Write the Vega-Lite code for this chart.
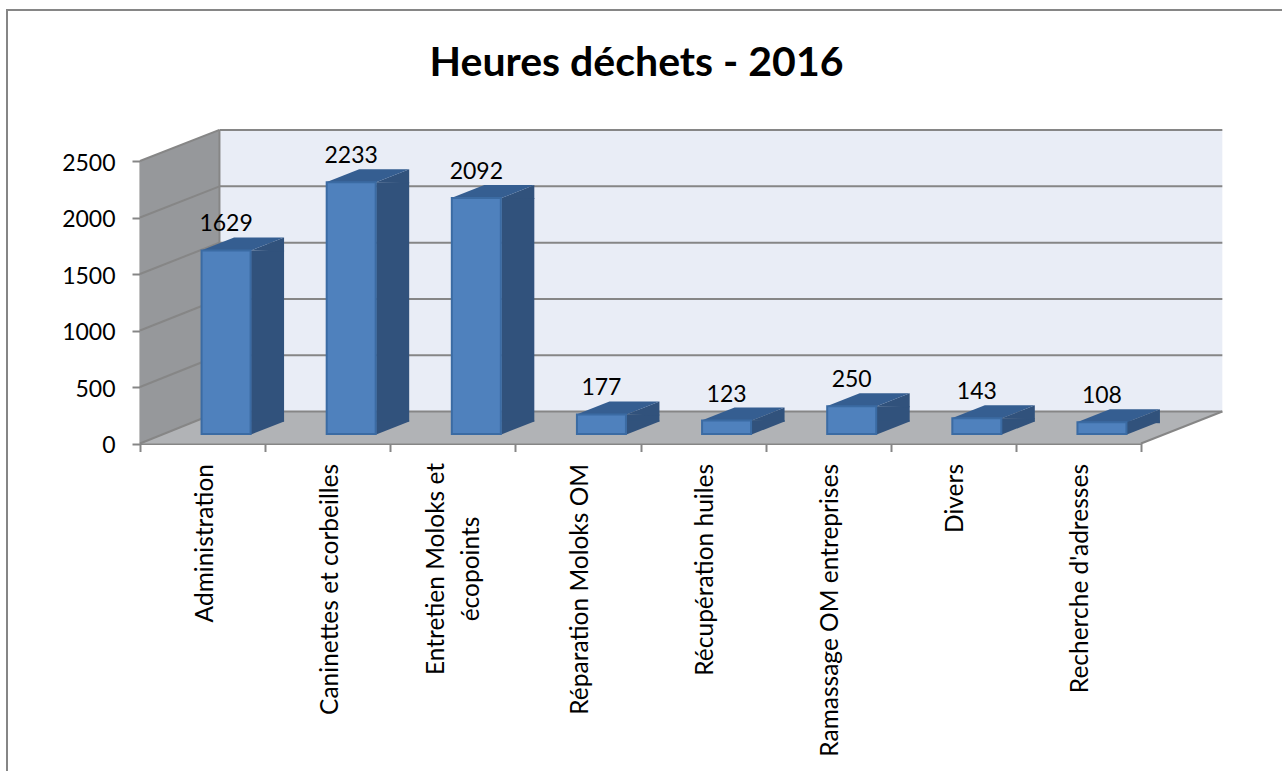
{"$schema":"https://vega.github.io/schema/vega-lite/v6.json","width":1285,"height":765,"autosize":{"type":"none"},"padding":{"left":7,"top":10,"right":0,"bottom":0},"background":"white","view":{"stroke":"#868686","strokeWidth":2,"fill":"white"},"title":{"text":"Heures déchets - 2016","font":"Lato","fontSize":41,"fontWeight":"bold","color":"#000000","anchor":"middle","offset":-75,"dx":-13},"datasets":{"bars":[{"cat":"Administration","hours":1629},{"cat":"Caninettes et corbeilles","hours":2233},{"cat":"Entretien Moloks et écopoints","hours":2092},{"cat":"Réparation Moloks OM","hours":177},{"cat":"Récupération huiles","hours":123},{"cat":"Ramassage OM entreprises","hours":250},{"cat":"Divers","hours":143},{"cat":"Recherche d'adresses","hours":108}],"wall":[{"u":0,"lo":0,"hi":2500},{"u":0.635,"lo":283,"hi":2775}],"floor":[{"u":0,"lo":0,"hi":0},{"u":0.635,"lo":0,"hi":283},{"u":8,"lo":0,"hi":283},{"u":8.65,"lo":283,"hi":283}],"back":[{"u":0.635,"lo":283,"hi":2775},{"u":8.65,"lo":283,"hi":2775}],"grid":[{"a":0,"b":0.635,"c":0,"d":283},{"a":0,"b":0.635,"c":500,"d":781},{"a":0,"b":0.635,"c":1000,"d":1279},{"a":0,"b":0.635,"c":1500,"d":1777},{"a":0,"b":0.635,"c":2000,"d":2276},{"a":0,"b":0.635,"c":2500,"d":2775},{"a":0.635,"b":8.65,"c":283,"d":283},{"a":0.635,"b":8.65,"c":781,"d":781},{"a":0.635,"b":8.65,"c":1279,"d":1279},{"a":0.635,"b":8.65,"c":1777,"d":1777},{"a":0.635,"b":8.65,"c":2276,"d":2276},{"a":0.635,"b":8.65,"c":2775,"d":2775},{"a":8,"b":8.65,"c":0,"d":283},{"a":0.635,"b":0.635,"c":283,"d":2775}]},"resolve":{"scale":{"x":"independent"},"axis":{"x":"independent"}},"layer":[{"data":{"name":"back"},"mark":{"type":"area","color":"#e9edf6","clip":false},"encoding":{"x":{"field":"u","type":"quantitative","axis":null,"scale":{"domain":[0,8],"range":[133,1134],"nice":false,"zero":false}},"y":{"field":"lo","type":"quantitative","stack":null,"scale":{"domain":[0,2500],"range":[433.5,151],"nice":false,"zero":false},"axis":{"values":[0,500,1000,1500,2000,2500],"format":"d","title":null,"grid":false,"offset":-133,"tickSize":8,"tickColor":"#868686","domainColor":"#868686","domainWidth":2,"tickWidth":2,"labelFont":"Lato","labelFontSize":23,"labelColor":"#000000","labelPadding":17,"labelOffset":2}},"y2":{"field":"hi"}}},{"data":{"name":"wall"},"mark":{"type":"area","color":"#96989b"},"encoding":{"x":{"field":"u","type":"quantitative","axis":null,"scale":{"domain":[0,8],"range":[133,1134],"nice":false,"zero":false}},"y":{"field":"lo","type":"quantitative","stack":null},"y2":{"field":"hi"}}},{"data":{"name":"floor"},"mark":{"type":"area","color":"#b1b3b6"},"encoding":{"x":{"field":"u","type":"quantitative","axis":null,"scale":{"domain":[0,8],"range":[133,1134],"nice":false,"zero":false}},"y":{"field":"lo","type":"quantitative","stack":null},"y2":{"field":"hi"}}},{"data":{"name":"grid"},"mark":{"type":"rule","color":"#868686","strokeWidth":2},"encoding":{"x":{"field":"a","type":"quantitative","axis":null,"scale":{"domain":[0,8],"range":[133,1134],"nice":false,"zero":false}},"x2":{"field":"b"},"y":{"field":"c","type":"quantitative"},"y2":{"field":"d"}}},{"data":{"name":"bars"},"layer":[{"mark":{"type":"bar","color":"#31527c","width":33,"xOffset":65,"yOffset":-9,"y2Offset":-22},"encoding":{"y":{"field":"hours","type":"quantitative"},"y2":{"datum":0}}},{"mark":{"type":"point","filled":true,"opacity":1,"color":"#31527c","size":4,"shape":"M25,0L58,-13L58,1Z","xOffset":23.5,"yOffset":-9},"encoding":{"y":{"field":"hours","type":"quantitative"}}},{"mark":{"type":"point","filled":true,"opacity":1,"color":"#31527c","size":4,"shape":"M25,-14L25,0L58,-13L58,-14Z","xOffset":23.5,"yOffset":-9},"encoding":{"y":{"datum":0,"type":"quantitative"}}},{"mark":{"type":"point","filled":true,"opacity":1,"color":"#355e91","size":4,"shape":"M-25,0L8,-13L58,-13L25,0Z","xOffset":23.5,"yOffset":-9},"encoding":{"y":{"field":"hours","type":"quantitative"}}},{"mark":{"type":"bar","color":"#4f81bd","stroke":"#3b6ba3","strokeWidth":2,"width":49,"xOffset":23.5,"yOffset":-9,"y2Offset":-9.5},"encoding":{"y":{"field":"hours","type":"quantitative"},"y2":{"datum":0}}},{"mark":{"type":"text","font":"Lato","fontSize":23,"color":"#000000","xOffset":23.5,"yOffset":-35,"baseline":"middle"},"encoding":{"y":{"field":"hours","type":"quantitative"},"text":{"field":"hours","type":"quantitative","format":"d"}}},{"transform":[{"filter":{"field":"cat","equal":"Entretien Moloks et écopoints"}}],"mark":{"type":"text","font":"Lato","fontSize":24.5,"color":"#000000","angle":270,"align":"center","baseline":"middle","lineHeight":35,"xOffset":-15.5,"yOffset":125.5},"encoding":{"y":{"datum":0,"type":"quantitative"},"text":{"value":["Entretien Moloks et","écopoints"]}}}],"encoding":{"x":{"field":"cat","type":"nominal","sort":null,"scale":{"type":"band","range":[133,1134],"paddingInner":0,"paddingOuter":0},"axis":{"title":null,"orient":"bottom","offset":-331.5,"tickBand":"extent","tickSize":8,"tickColor":"#868686","tickWidth":2,"domainColor":"#868686","domainWidth":2,"labelAngle":270,"labelAlign":"right","labelBaseline":"middle","labelFont":"Lato","labelFontSize":24.5,"labelColor":"#000000","labelPadding":12,"labelLimit":400,"labelOffset":2.5,"labelExpr":"datum.value == 'Entretien Moloks et écopoints' ? '' : datum.label"}}}}]}
